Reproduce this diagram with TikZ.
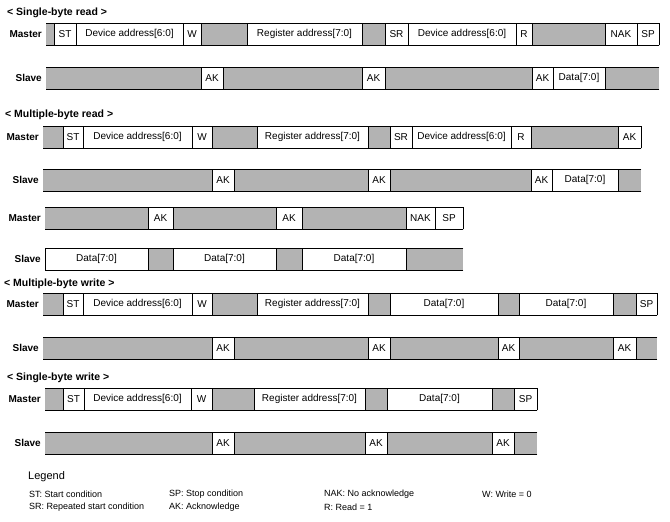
\documentclass[tikz,border=0pt]{standalone}
\usepackage{fontspec}
\setmainfont{Liberation Sans}
\usepackage{tikz}
\usetikzlibrary{positioning}
\definecolor{Idle}{HTML}{B3B3B3}

\tikzset{
  slot/.style={minimum height=22pt, inner sep=0pt, outer sep=0pt,
    font=\fontsize{10}{12}\selectfont},
  gap/.style={fill=Idle},
  bit/.style={fill=white},
  edge/.style={line width=0.9pt, line cap=rect},
  gap edge/.style={},
  bit edge/.style={draw, edge},
  rowname/.style={font=\fontsize{10}{12}\selectfont\bfseries, inner sep=0pt},
  heading/.style={font=\fontsize{10.5}{12}\selectfont\bfseries, anchor=west, inner sep=0pt},
  legendtext/.style={font=\fontsize{9}{11}\selectfont, anchor=west, inner sep=0pt}
}

% one bus row: name, role, top edge, segments left/right/text/kind
\newcommand{\busrow}[4]{%
  \foreach \xa/\xb/\txt/\kind [count=\i] in {#4}
    \node[slot, \kind, minimum width={(\xb-\xa)*1pt}] (#1-\i) at ({(\xa+\xb)/2},{#3+11}) {\txt};
  \foreach \xa/\xb/\txt/\kind [count=\i] in {#4} {
    \draw[edge] (#1-\i.north west) -- (#1-\i.north east) (#1-\i.south west) -- (#1-\i.south east);
    \path[\kind\space edge] (#1-\i.north west) -- (#1-\i.south west) (#1-\i.north east) -- (#1-\i.south east);
  }
  \node[rowname, left=4pt of #1-1] (#1-name) {#2};
}

\begin{document}
\begin{tikzpicture}[x=1pt, y=-1pt]
  \useasboundingbox (0,0) rectangle (670,522);

  \node[heading] (sbr) at (7,13) {< Single-byte read >};
  \busrow{sbrm}{Master}{23}{46/54/{}/gap, 54/76/ST/bit, 76/183/{Device address[6:0]}/bit,
    183/201/W/bit, 201/247/{}/gap, 247/362/{Register address[7:0]}/bit, 362/385/{}/gap,
    385/408/SR/bit, 408/516/{Device address[6:0]}/bit, 516/532/R/bit, 532/605/{}/gap,
    605/637/NAK/bit, 637/659/SP/bit}
  \busrow{sbrs}{Slave}{67}{46/201/{}/gap, 201/223/AK/bit, 223/362/{}/gap, 362/385/AK/bit,
    385/532/{}/gap, 532/553/AK/bit, 553/605/{Data[7:0]}/bit, 605/659/{}/gap}

  \node[heading] (mbr) at (5,115) {< Multiple-byte read >};
  \busrow{mbrm}{Master}{126}{43/63/{}/gap, 63/83/ST/bit, 83/192/{Device address[6:0]}/bit,
    192/212/W/bit, 212/257/{}/gap, 257/368/{Register address[7:0]}/bit, 368/390/{}/gap,
    390/412/SR/bit, 412/511/{Device address[6:0]}/bit, 511/531/R/bit, 531/618/{}/gap,
    618/641/AK/bit}
  \busrow{mbrs}{Slave}{169}{43/212/{}/gap, 212/234/AK/bit, 234/368/{}/gap, 368/390/AK/bit,
    390/531/{}/gap, 531/552/AK/bit, 552/618/{Data[7:0]}/bit, 618/641/{}/gap}
  \busrow{mbrmm}{Master}{207}{45/148/{}/gap, 148/173/AK/bit, 173/276/{}/gap, 276/302/AK/bit,
    302/406/{}/gap, 406/435/NAK/bit, 435/463/SP/bit}
  \busrow{mbrss}{Slave}{248}{45/148/{Data[7:0]}/bit, 148/173/{}/gap, 173/276/{Data[7:0]}/bit,
    276/302/{}/gap, 302/406/{Data[7:0]}/bit, 406/463/{}/gap}

  \node[heading] (mbw) at (4,284) {< Multiple-byte write >};
  \busrow{mbwm}{Master}{293}{43/63/{}/gap, 63/83/ST/bit, 83/192/{Device address[6:0]}/bit,
    192/212/W/bit, 212/257/{}/gap, 257/368/{Register address[7:0]}/bit, 368/390/{}/gap,
    390/498/{Data[7:0]}/bit, 498/519/{}/gap, 519/613/{Data[7:0]}/bit, 613/636/{}/gap,
    636/657/SP/bit}
  \busrow{mbws}{Slave}{337}{43/212/{}/gap, 212/234/AK/bit, 234/368/{}/gap, 368/390/AK/bit,
    390/498/{}/gap, 498/519/AK/bit, 519/613/{}/gap, 613/636/AK/bit, 636/657/{}/gap}

  \node[heading] (sbw) at (7,378) {< Single-byte write >};
  \busrow{sbwm}{Master}{388}{45/63/{}/gap, 63/84/ST/bit, 84/191/{Device address[6:0]}/bit,
    191/212/W/bit, 212/254/{}/gap, 254/365/{Register address[7:0]}/bit, 365/387/{}/gap,
    387/492/{Data[7:0]}/bit, 492/514/{}/gap, 514/537/SP/bit}
  \busrow{sbws}{Slave}{432}{45/212/{}/gap, 212/234/AK/bit, 234/365/{}/gap, 365/387/AK/bit,
    387/492/{}/gap, 492/514/AK/bit, 514/537/{}/gap}

  \node[anchor=west, inner sep=0pt, font=\fontsize{11}{13}\selectfont] (legend) at (28,477) {Legend};
  \node[legendtext] (st) at (29,494) {ST: Start condition};
  \node[legendtext] (sp) at (169,494) {SP: Stop condition};
  \node[legendtext] (nak) at (324,494) {NAK: No acknowledge};
  \node[legendtext] (w) at (482,494) {W: Write = 0};
  \node[legendtext] (sr) at (29,507) {SR: Repeated start condition};
  \node[legendtext] (ak) at (169,507) {AK: Acknowledge};
  \node[legendtext] (r) at (324,507) {R: Read = 1};
\end{tikzpicture}
\end{document}
